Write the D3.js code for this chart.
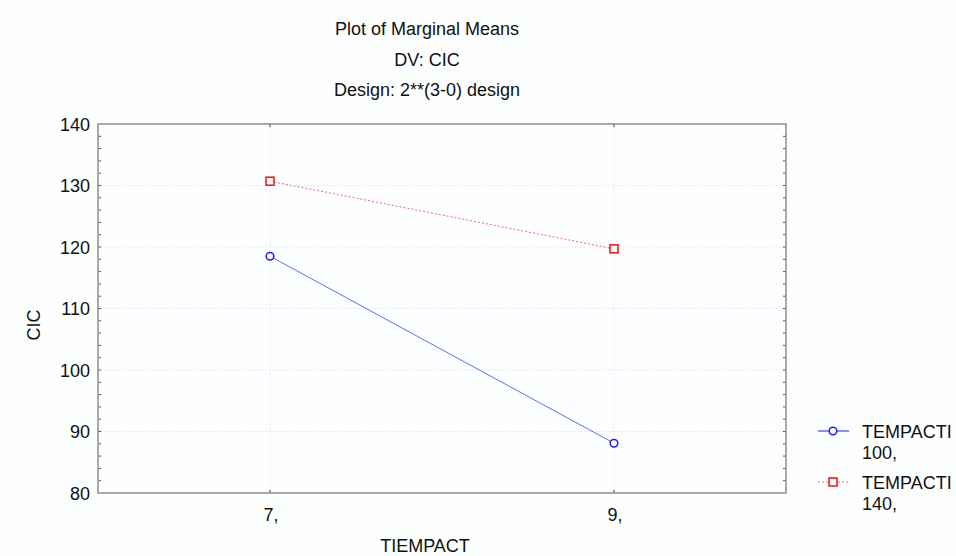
<!DOCTYPE html>
<html>
<head>
<meta charset="utf-8">
<script src="https://cdn.jsdelivr.net/npm/d3@7"></script>
<style>
  body { margin: 0; background: #fdfefe; }
  svg { display: block; font-family: Arial, "Liberation Sans", sans-serif; }
</style>
</head>
<body>
<svg id="chart" width="956" height="556"></svg>
<script>
// data
const levels = ["7,", "9,"];
const yTicks = [80, 90, 100, 110, 120, 130, 140];
const titleLines = ["Plot of Marginal Means", "DV: CIC", "Design: 2**(3-0) design"];
const series100 = [118.5, 88.1];
const series140 = [130.7, 119.7];
const seriesNames = ["TEMPACTI", "TEMPACTI"];
const seriesSub = ["100,", "140,"];

const svg = d3.select("#chart");
const plot = { left: 98, top: 124, right: 786, bottom: 493 };
const fs = '18px';

const x = d3.scalePoint().domain(levels).range([plot.left, plot.right]).padding(0.5);
const y = d3.scaleLinear().domain([80, 140]).range([plot.bottom, plot.top]);

// title
svg.selectAll('.title')
    .data(titleLines)
    .enter()
    .append('text')
    .attr('x', 427)
    .attr('y', (d, i) => 35 + i * 30.5)
    .attr('text-anchor', 'middle')
    .style('font-size', fs)
    .style('fill', '#111')
    .text(d => d);

// plot background
svg.append('rect')
    .attr('x', plot.left).attr('y', plot.top)
    .attr('width', plot.right - plot.left).attr('height', plot.bottom - plot.top)
    .style('fill', '#fdfeff');

// grid
svg.selectAll('.hgrid')
    .data(yTicks.slice(1, -1))
    .enter()
    .append('line')
    .attr('x1', plot.left).attr('x2', plot.right)
    .attr('y1', d => y(d)).attr('y2', d => y(d))
    .style('stroke', '#d8ddee')
    .style('stroke-dasharray', '1,2');

svg.selectAll('.vgrid')
    .data(levels)
    .enter()
    .append('line')
    .attr('x1', d => x(d)).attr('x2', d => x(d))
    .attr('y1', plot.top).attr('y2', plot.bottom)
    .style('stroke', '#d8ddee')
    .style('stroke-dasharray', '1,2');

// minor ticks every 2 units on left and right
const minor = d3.range(82, 140, 2);
[plot.left, plot.right].forEach((px, side) => {
    svg.selectAll('.minor' + side)
        .data(minor)
        .enter()
        .append('line')
        .attr('x1', px).attr('x2', side === 0 ? px + 3 : px - 3)
        .attr('y1', d => y(d)).attr('y2', d => y(d))
        .style('stroke', '#555');
});

// major tick marks on top/bottom
svg.selectAll('.xtick')
    .data(levels)
    .enter()
    .append('g')
    .each(function(d) {
        d3.select(this).append('line')
            .attr('x1', x(d)).attr('x2', x(d))
            .attr('y1', plot.top).attr('y2', plot.top + 3)
            .style('stroke', '#333');
        d3.select(this).append('line')
            .attr('x1', x(d)).attr('x2', x(d))
            .attr('y1', plot.bottom).attr('y2', plot.bottom - 3)
            .style('stroke', '#333');
    });

// frame
svg.append('rect')
    .attr('x', plot.left).attr('y', plot.top)
    .attr('width', plot.right - plot.left).attr('height', plot.bottom - plot.top)
    .style('fill', 'none')
    .style('stroke', '#8a8d90')
    .style('stroke-width', 1.5);

// y tick labels
svg.selectAll('.ylab')
    .data(yTicks)
    .enter()
    .append('text')
    .attr('x', plot.left - 8)
    .attr('y', d => y(d) + 6.5)
    .attr('text-anchor', 'end')
    .style('font-size', fs)
    .style('fill', '#111')
    .text(d => d);

// x tick labels
svg.selectAll('.xlab')
    .data(levels)
    .enter()
    .append('text')
    .attr('x', d => x(d) + 1)
    .attr('y', plot.bottom + 28)
    .attr('text-anchor', 'middle')
    .style('font-size', fs)
    .style('fill', '#111')
    .text(d => d);

// axis titles
svg.append('text')
    .attr('x', 425).attr('y', 552)
    .attr('text-anchor', 'middle')
    .style('font-size', fs)
    .style('fill', '#111')
    .text('TIEMPACT');

svg.append('text')
    .attr('transform', 'translate(40,325) rotate(-90)')
    .attr('text-anchor', 'middle')
    .style('font-size', fs)
    .style('fill', '#111')
    .text('CIC');

// series
const line = d3.line().x((d, i) => x(levels[i])).y(d => y(d));

svg.append('path')
    .datum(series100)
    .attr('d', line)
    .style('fill', 'none')
    .style('stroke', '#5a6cf5')
    .style('stroke-width', 1);

svg.append('path')
    .datum(series140)
    .attr('d', line)
    .style('fill', 'none')
    .style('stroke', '#f06a6a')
    .style('stroke-width', 1)
    .style('stroke-dasharray', '2,2');

svg.selectAll('.dot100')
    .data(series100)
    .enter()
    .append('circle')
    .attr('cx', (d, i) => x(levels[i]))
    .attr('cy', d => y(d))
    .attr('r', 3.8)
    .style('fill', '#fff')
    .style('stroke', '#1a1aff')
    .style('stroke-width', 1.5);

svg.selectAll('.sq140')
    .data(series140)
    .enter()
    .append('rect')
    .attr('x', (d, i) => x(levels[i]) - 4)
    .attr('y', d => y(d) - 4)
    .attr('width', 8).attr('height', 8)
    .style('fill', '#fff')
    .style('stroke', '#ee1111')
    .style('stroke-width', 1.5);

// legend
const legend = svg.append('g');
const legY = [431, 482];

legend.append('line')
    .attr('x1', 818).attr('x2', 849).attr('y1', legY[0]).attr('y2', legY[0])
    .style('stroke', '#1a1aff');
legend.append('circle')
    .attr('cx', 833).attr('cy', legY[0]).attr('r', 3.8)
    .style('fill', '#fff').style('stroke', '#1a1aff').style('stroke-width', 1.5);

legend.append('line')
    .attr('x1', 818).attr('x2', 849).attr('y1', legY[1]).attr('y2', legY[1])
    .style('stroke', '#f06a6a').style('stroke-dasharray', '2,2');
legend.append('rect')
    .attr('x', 829).attr('y', legY[1] - 4).attr('width', 8).attr('height', 8)
    .style('fill', '#fff').style('stroke', '#ee1111').style('stroke-width', 1.5);

legend.selectAll('.ln1')
    .data(seriesNames)
    .enter()
    .append('text')
    .attr('x', 862).attr('y', (d, i) => legY[i] + 7)
    .style('font-size', fs).style('fill', '#111')
    .text(d => d);

legend.selectAll('.ln2')
    .data(seriesSub)
    .enter()
    .append('text')
    .attr('x', 862).attr('y', (d, i) => legY[i] + 28)
    .style('font-size', fs).style('fill', '#111')
    .text(d => d);
</script>
</body>
</html>
